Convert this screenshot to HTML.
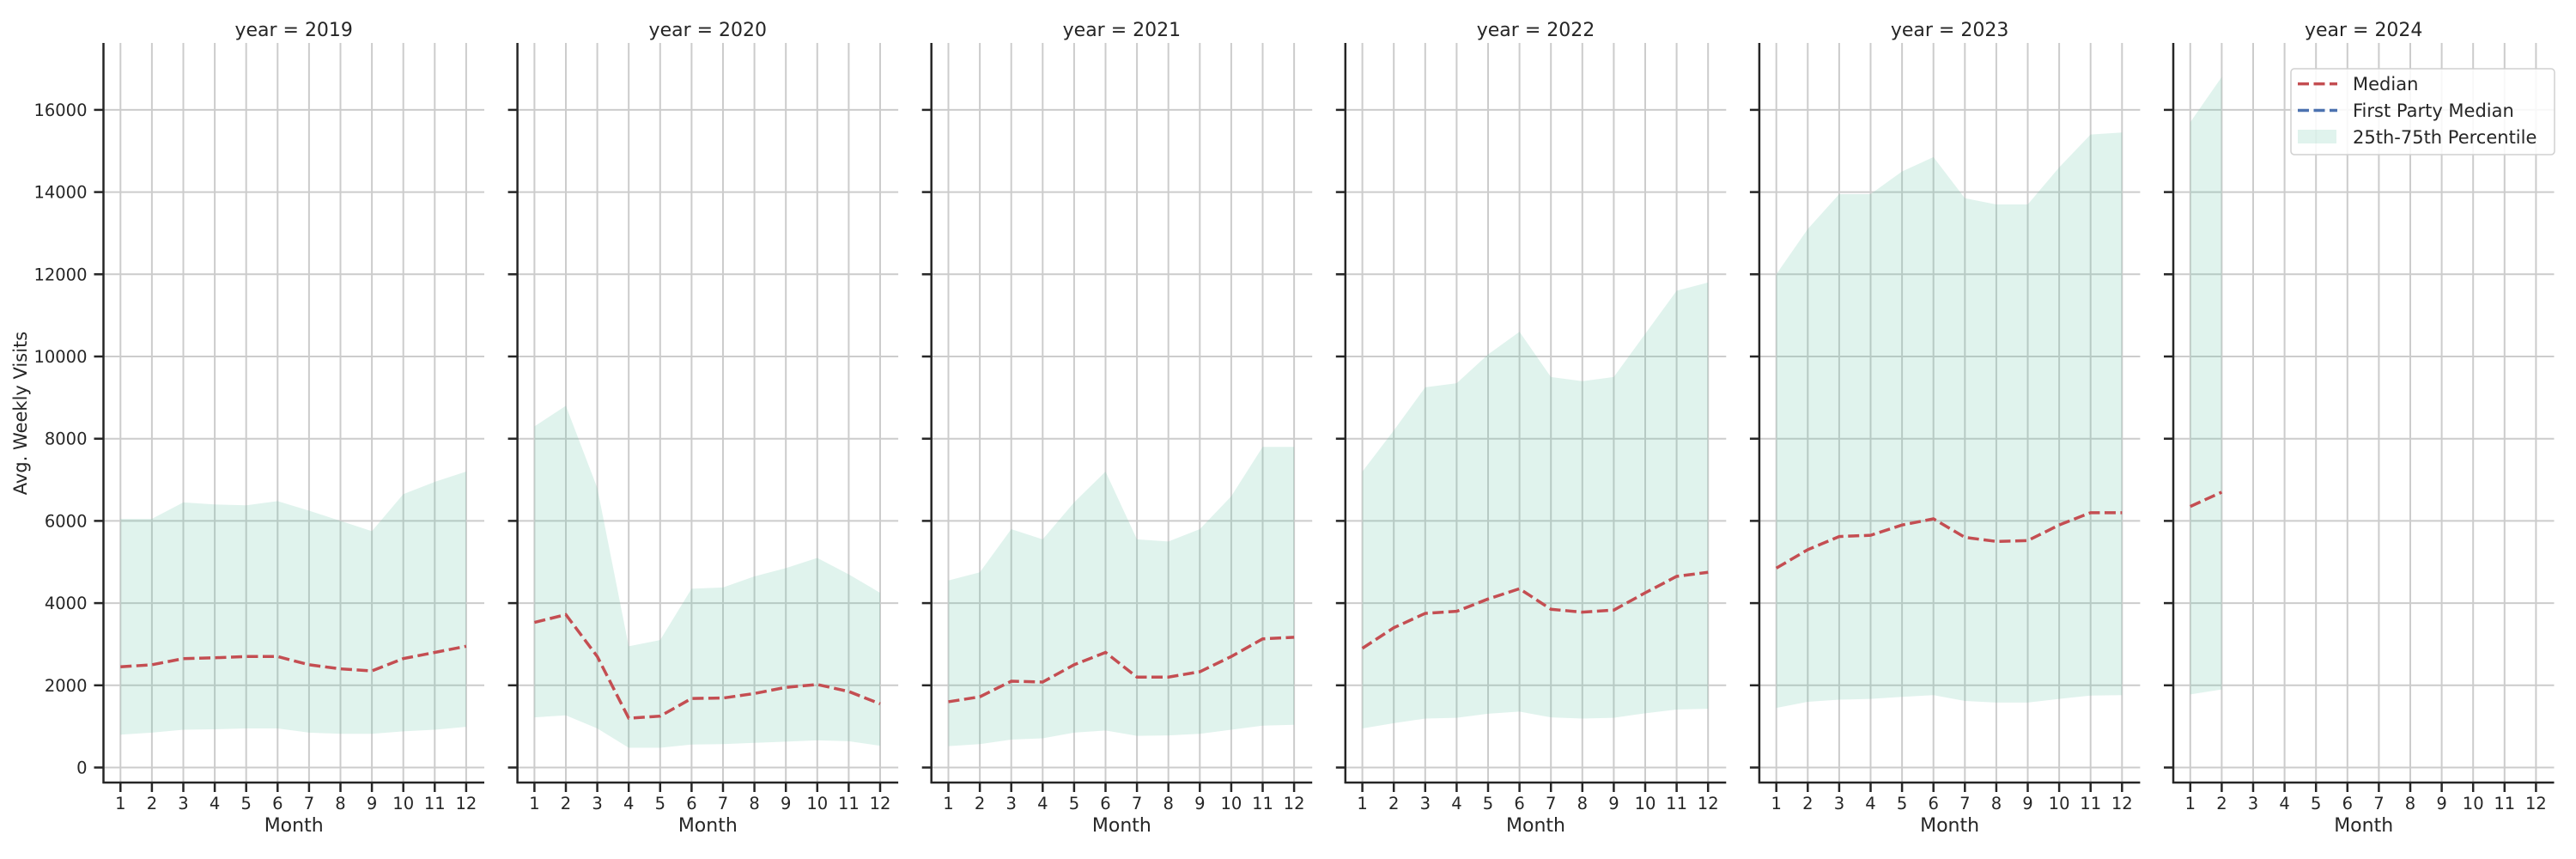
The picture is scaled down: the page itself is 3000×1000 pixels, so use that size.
<!DOCTYPE html>
<html><head><meta charset="utf-8"><style>
html,body{margin:0;padding:0;background:#fff;}
svg{display:block;font-family:"DejaVu Sans","Liberation Sans",sans-serif;}
</style></head><body>
<svg id="s" width="3000" height="1000" xmlns="http://www.w3.org/2000/svg"></svg>
<script>
const data={
2019:{m:[2450,2500,2650,2670,2700,2700,2500,2400,2350,2650,2800,2950],u:[6050,6050,6450,6400,6380,6480,6250,6000,5750,6650,6950,7200],l:[800,850,920,930,950,950,850,820,820,880,920,990]},
2020:{m:[3530,3720,2700,1200,1250,1680,1690,1800,1950,2020,1850,1550],u:[8300,8800,6800,2950,3100,4350,4380,4650,4850,5100,4700,4250],l:[1220,1270,950,480,480,560,570,600,630,660,640,530]},
2021:{m:[1600,1720,2100,2080,2500,2800,2200,2200,2330,2700,3130,3170],u:[4550,4750,5800,5550,6450,7200,5550,5500,5800,6600,7800,7800],l:[520,570,680,710,850,900,770,780,820,920,1020,1040]},
2022:{m:[2900,3400,3750,3800,4100,4350,3850,3780,3830,4250,4650,4750],u:[7200,8200,9250,9350,10050,10600,9500,9400,9500,10550,11600,11800],l:[950,1080,1190,1210,1310,1360,1220,1190,1210,1320,1410,1430]},
2023:{m:[4850,5300,5620,5650,5900,6050,5600,5500,5520,5900,6200,6200],u:[12000,13100,13950,13950,14500,14850,13850,13700,13700,14600,15400,15450],l:[1450,1600,1650,1670,1720,1760,1620,1580,1580,1670,1750,1760]},
2024:{m:[6350,6700],u:[15700,16800],l:[1780,1900]}};
const Y=v=>893.5-v*0.04785;
let h='';
const years=[2019,2020,2021,2022,2023,2024];
years.forEach((yr,i)=>{
 const ax=120.5+i*482.1, X=m=>ax+19.8+(m-1)*36.6, right=ax+443.5;
 for(let m=1;m<=12;m++) h+=`<line x1="${X(m)}" y1="50" x2="${X(m)}" y2="911" stroke="#cccccc" stroke-width="2"/>`;
 for(let v=0;v<=16000;v+=2000) h+=`<line x1="${ax}" y1="${Y(v)}" x2="${right}" y2="${Y(v)}" stroke="#cccccc" stroke-width="2"/>`;
 const d=data[yr];
 let pts=d.u.map((v,k)=>`${X(k+1)},${Y(v)}`).concat(d.l.map((v,k)=>`${X(k+1)},${Y(v)}`).reverse());
 h+=`<polygon points="${pts.join(' ')}" fill="#66c2a5" fill-opacity="0.2"/>`;
 h+=`<polyline points="${d.m.map((v,k)=>`${X(k+1)},${Y(v)}`).join(' ')}" fill="none" stroke="#c44e52" stroke-width="3.5" stroke-dasharray="13,5.5"/>`;
 h+=`<line x1="${ax}" y1="50" x2="${ax}" y2="912" stroke="#262626" stroke-width="2.5"/>`;
 h+=`<line x1="${ax-1}" y1="911" x2="${right}" y2="911" stroke="#262626" stroke-width="2.5"/>`;
 for(let v=0;v<=16000;v+=2000){
  h+=`<line x1="${ax-11}" y1="${Y(v)}" x2="${ax}" y2="${Y(v)}" stroke="#262626" stroke-width="2.5"/>`;
  if(i==0) h+=`<text x="${ax-19}" y="${Y(v)+7}" font-size="19.5" text-anchor="end" fill="#262626">${v}</text>`;
 }
 for(let m=1;m<=12;m++){
  h+=`<line x1="${X(m)}" y1="911" x2="${X(m)}" y2="922" stroke="#262626" stroke-width="2.5"/>`;
  h+=`<text x="${X(m)}" y="942" font-size="19.5" text-anchor="middle" fill="#262626">${m}</text>`;
 }
 h+=`<text x="${ax+221.7}" y="968" font-size="22" text-anchor="middle" fill="#262626">Month</text>`;
 h+=`<text x="${ax+221.7}" y="42" font-size="22" text-anchor="middle" fill="#262626">year = ${yr}</text>`;
});
h+=`<text transform="translate(31,481) rotate(-90)" font-size="21" text-anchor="middle" fill="#262626">Avg. Weekly Visits</text>`;
h+=`<rect x="2668" y="80" width="307" height="100" rx="4" fill="#fff" fill-opacity="0.85" stroke="#d0d0d0" stroke-width="1.5"/>`;
h+=`<line x1="2676" y1="97.6" x2="2722" y2="97.6" stroke="#c44e52" stroke-width="3.5" stroke-dasharray="13,5.5"/>`;
h+=`<line x1="2676" y1="128.5" x2="2722" y2="128.5" stroke="#4c72b0" stroke-width="3.5" stroke-dasharray="13,5.5"/>`;
h+=`<rect x="2676" y="151" width="45" height="16" fill="#66c2a5" fill-opacity="0.2"/>`;
h+=`<text x="2740" y="105" font-size="21" fill="#262626">Median</text>`;
h+=`<text x="2740" y="136" font-size="21" fill="#262626">First Party Median</text>`;
h+=`<text x="2740" y="167" font-size="21" fill="#262626">25th-75th Percentile</text>`;
document.getElementById('s').innerHTML=h;
</script>
</body></html>
